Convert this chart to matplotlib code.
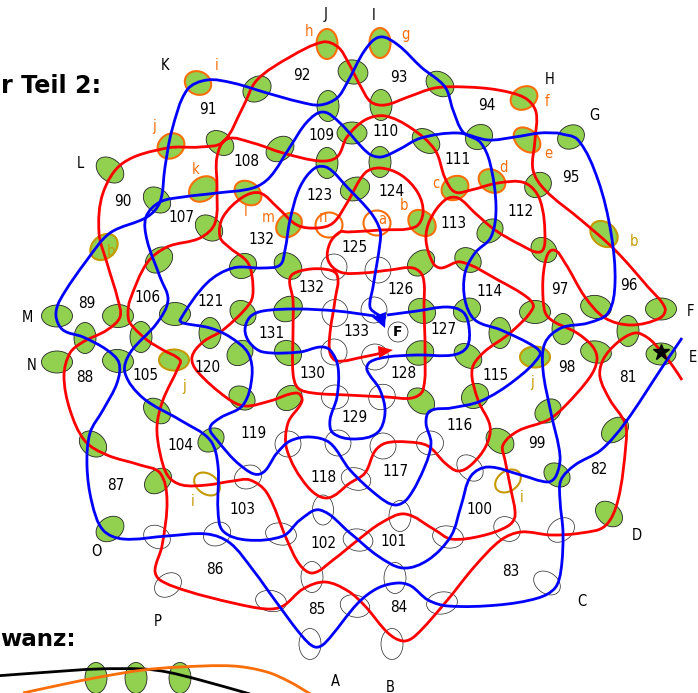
import matplotlib
matplotlib.use('Agg')
import matplotlib.pyplot as plt
from matplotlib.patches import Ellipse, PathPatch, Polygon, Circle
from matplotlib.path import Path
import numpy as np

# picture coordinates, y pointing down
# leaves : centre x, centre y, long axis, short axis, tilt
green_leaves = [
    (257,89,30,24,-35),(353,72,30,24,10),(328,106,22,31,0),(440,84,30,23,35),(381,105,22,31,0),
    (571,137,28,23,-30),(479,137,28,24,-30),(426,141,30,22,35),(352,133,30,22,0),(380,162,22,31,0),
    (327,163,22,31,0),(280,149,30,23,-35),(220,143,30,22,35),(110,170,31,22,40),(157,200,30,23,40),
    (209,228,30,23,40),(355,189,30,23,-20),(538,185,28,24,-35),(544,250,28,23,40),(490,231,28,22,-35),
    (421,263,30,23,-40),(468,260,28,23,35),(661,309,31,22,0),(596,307,31,23,10),(628,331,22,31,0),
    (563,329,22,31,0),(535,312,31,23,0),(500,333,22,31,0),(467,310,28,23,-25),(422,311,28,24,30),
    (420,353,28,24,-20),(468,356,30,22,35),(596,352,31,22,10),(661,354,30,22,0),(475,396,28,24,-30),
    (421,401,30,23,40),(548,411,28,22,-35),(615,430,30,22,-40),(500,441,30,23,35),(557,475,28,22,35),
    (609,514,30,22,40),(110,529,30,23,-35),(158,481,30,22,-40),(211,440,28,22,-35),(93,444,30,23,40),
    (157,411,30,22,40),(242,398,28,22,35),(289,398,28,23,-40),(288,353,28,24,30),(240,353,28,23,-40),
    (118,361,31,23,5),(57,362,31,22,0),(85,338,22,31,0),(57,316,31,22,0),(118,316,31,23,0),
    (141,337,22,31,0),(175,314,31,23,0),(210,333,22,31,0),(243,313,28,23,40),(159,260,30,23,-40),
    (243,266,28,24,-30),(288,266,30,24,40),(288,309,30,24,-30),
    (96,678,22,31,0),(136,678,22,31,0),(180,678,22,31,0),
]
orange_leaves = [
    (327,44,30,21,90),(198,83,27,23,25),(380,43,30,21,90),(524,98,28,22,-30),(527,140,30,21,40),
    (171,146,28,24,-35),(203,189,30,23,-35),(248,193,29,22,35),(289,225,28,22,-40),(422,223,30,23,40),
    (455,188,28,23,-30),(492,181,28,22,30),
]
orange_rings = [(329,225,27,25,0),(377,223,27,25,0)]
gold_leaves = [(604,234,30,23,40),(104,247,30,23,-40),(174,360,30,21,0),(535,357,30,21,0)]
gold_rings = [(508,481,28,20,-35),(207,484,28,20,35)]
empty_leaves = [
    (334,267,26,26,0),(378,270,26,26,0),(335,313,26,27,0),(374,310,26,26,0),(334,352,26,26,0),
    (375,357,27,26,0),(335,397,27,24,0),(382,397,27,25,-30),(356,479,30,22,15),(383,446,26,26,0),
    (430,443,27,24,0),(470,468,30,22,45),(288,444,26,26,0),(338,443,26,26,0),(248,477,28,23,-25),
    (323,510,30,21,90),(281,534,31,22,10),(217,534,28,23,-25),(157,537,28,22,30),(168,585,29,22,-35),
    (312,577,31,22,90),(271,601,31,21,10),(310,644,31,22,90),(355,606,30,22,15),(400,516,31,22,90),
    (395,578,31,22,90),(358,540,30,22,10),(448,537,31,22,10),(507,529,28,23,35),(561,530,29,22,-35),
    (547,583,29,21,35),(442,603,31,22,-10),(392,644,31,22,90),
]

red_line = [
    (682,380),(672,365),(660,350),(648,338),(635,333),(617,343),(603,360),(600,377),(610,400),(625,423),
    (626,443),(618,500),(605,526),(581,533),(551,535),(521,532),(501,540),(475,566),(445,603),(415,636),
    (403,641),(388,633),(365,606),(348,591),(325,582),(303,589),(283,606),(267,609),(233,603),(187,591),
    (160,580),(155,570),(162,546),(167,500),(160,473),(140,465),(107,455),(85,441),(70,410),(64,376),
    (70,353),(83,342),(107,330),(120,317),(118,300),(107,263),(99,233),(103,193),(123,163),(167,148),
    (200,147),(223,142),(243,107),(257,80),(290,57),(323,42),(338,47),(348,62),(361,87),(371,102),
    (385,105),(408,97),(435,88),(465,87),(498,90),(525,98),(536,112),(535,140),(533,170),(545,190),
    (581,220),(615,250),(648,287),(665,308),(660,318),(631,325),(605,318),(585,297),(565,263),(553,250),
    (545,263),(543,297),(548,317),(577,333),(593,347),(597,360),(590,377),(565,406),(548,420),(518,431),
    (503,445),(505,460),(511,490),(515,516),(508,526),(481,536),(451,539),(435,530),(405,514),(381,523),
    (358,540),(333,560),(313,573),(300,565),(287,540),(267,493),(250,480),(233,481),(207,485),(182,485),
    (168,476),(160,453),(157,426),(163,400),(178,368),(180,360),(163,350),(147,340),(130,323),(128,313),
    (130,300),(147,263),(167,247),(200,238),(215,223),(217,187),(217,157),(227,139),(253,143),(283,153),
    (320,161),(337,157),(347,137),(365,120),(385,116),(411,128),(435,150),(445,178),(455,192),(471,190),
    (498,183),(525,183),(540,200),(545,240),(540,252),(521,245),(495,230),(475,213),(458,198),(445,200),
    (430,220),(426,240),(433,263),(441,268),(461,262),(498,280),(528,298),(533,308),(510,333),(483,353),
    (472,370),(478,400),(490,426),(486,446),(471,465),(458,471),(445,463),(428,446),(408,442),(386,443),
    (375,451),(365,473),(350,483),(327,498),(307,486),(287,450),(288,423),(302,401),(297,393),(270,401),
    (245,406),(227,398),(197,371),(192,357),(203,342),(223,330),(250,303),(253,287),(248,263),(230,248),
    (220,237),(223,217),(243,197),(260,193),(277,207),(297,225),(317,228),(333,223),(347,203),(365,173),
    (380,168),(401,175),(418,193),(423,213),(415,227),(381,230),(348,232),(340,232),(330,243),(328,260),
    (340,272),(363,273),(390,270),(413,268),(423,277),(424,310),(425,350),(423,390),(412,398),(387,397),
    (347,395),(313,393),(298,388),(293,373),(293,333),(293,300),(290,278),(300,271),(323,269),(337,275),
    (335,300),(330,333),(330,353),(337,361),(363,357),(382,353),
]
blue_line = [
    (682,338),(663,366),(625,423),(601,450),(575,465),(561,480),(560,500),(563,533),(561,570),(555,588),
    (538,598),(498,605),(448,606),(428,600),(411,586),(398,583),(378,588),(358,603),(325,643),(315,647),
    (302,636),(277,603),(253,570),(230,543),(207,534),(167,536),(123,539),(103,530),(92,503),(87,466),
    (90,433),(103,410),(117,383),(119,363),(107,350),(83,337),(63,330),(56,316),(60,300),(87,260),
    (110,233),(147,217),(160,202),(165,167),(172,130),(187,90),(207,80),(233,83),(267,93),(300,102),
    (320,105),(337,98),(347,83),(365,50),(380,37),(398,45),(421,67),(445,87),(453,110),(463,132),
    (480,142),(490,163),(496,207),(491,237),(475,253),(465,273),(465,300),(475,320),(501,330),(535,347),
    (540,355),(515,380),(481,401),(451,408),(430,411),(426,423),(431,443),(425,466),(408,498),(395,505),
    (378,496),(350,470),(330,443),(310,437),(290,441),(277,453),(260,474),(240,465),(217,440),(210,428),
    (220,418),(243,405),(252,376),(248,353),(230,337),(210,328),(183,323),(180,320),(207,283),(233,268),
    (263,268),(280,265),(285,250),(290,220),(300,187),(315,168),(328,168),(347,187),(371,213),(380,230),
    (380,243),(373,287),(370,307),(377,314),(386,318),
]
blue_loop = [
    (558,133),(578,140),(598,180),(611,233),(615,283),(608,313),(588,323),(561,328),(545,343),(543,370),
    (551,413),(560,456),(556,476),(548,482),(521,475),(488,467),(471,476),(461,506),(451,536),(428,560),
    (403,568),(378,556),(350,533),(320,510),(300,520),(283,536),(247,540),(223,531),(218,510),(218,466),
    (210,440),(180,420),(143,398),(125,373),(130,353),(157,323),(168,300),(160,277),(147,240),(146,217),
    (160,202),(183,197),(217,193),(253,188),(270,177),(290,147),(307,122),(323,112),(340,123),(368,153),
    (381,157),(398,150),(421,138),(458,133),(488,140),(515,137),(540,133),(558,133),
]
blue_centre = [
    (387,315),(417,311),(447,307),(463,312),(469,327),(467,347),(453,355),(417,355),(387,357),(370,362),
    (367,370),(380,390),(385,413),(377,433),(353,439),(333,433),(330,420),(337,397),(338,367),(330,350),
    (320,347),(300,352),(263,352),(250,343),(245,330),(250,317),(263,311),(297,309),(337,311),(375,316),
]
black_tail = [(-5,676),(50,672),(97,669),(143,669),(167,672),(200,680),(250,694)]
orange_tail = [(23,693),(60,685),(100,677),(143,670),(180,667),(233,666),(267,672),(290,682),(312,695)]

red_head = [(393,350),(378,346),(379,358)]
blue_head = [(385,328),(372,317),(386,312)]

numbers = ['92','93','91','94','109','110','108','111','95','90','107','123','124','112','113','132','125','132','126','114',
           '97','96','89','106','121','131','133','127','88','105','120','130','128','115','98','81','129','119','116','104',
           '99','118','117','87','82','103','100','102','101','86','83','85','84']
number_x = [302,399,208,487,322,385,246,458,571,123,181,320,391,521,454,261,355,312,401,489,
            560,629,87,147,211,272,356,443,85,146,208,312,403,496,567,628,355,254,460,180,
            537,323,395,116,599,242,479,323,394,215,511,317,399]
number_y = [76,77,110,106,135,132,162,159,178,201,217,196,192,211,223,240,247,288,289,292,
            290,286,304,298,301,333,332,329,378,376,367,374,374,376,368,377,418,434,426,445,
            443,478,471,486,470,510,510,544,542,570,572,610,607]

black_letters = ['J','I','K','H','G','L','M','N','O','P','A','B','C','D','E','F']
black_x = [326,374,165,550,594,80,27,32,96,158,335,390,582,637,693,691]
black_y = [14,15,66,79,116,163,317,366,552,621,682,687,601,536,358,311]

orange_letters = ['h','i','g','j','f','e','d','c','b','a','n','m','l','k']
orange_x = [309,217,405,154,547,548,504,436,404,382,323,268,246,196]
orange_y = [31,66,34,126,101,154,168,183,206,219,218,217,212,170]

gold_letters = ['b','b','j','j','i','i']
gold_x = [111,634,184,532,193,522]
gold_y = [252,242,386,382,502,498]

GREEN = '#92D050'
ORANGE = '#FA6E0A'
GOLD = '#C49A00'


def smooth(points):
    # cubic segments through the points, handles follow the chord length
    pts = np.array(points, dtype=float)
    before = np.vstack([pts[0], pts[:-1]])
    after = np.vstack([pts[1:], pts[-1]])
    directions = after - before
    directions = directions / np.linalg.norm(directions, axis=1, keepdims=True)
    verts = [pts[0]]
    codes = [Path.MOVETO]
    for i in range(len(pts) - 1):
        reach = np.linalg.norm(pts[i + 1] - pts[i]) / 3
        verts += [pts[i] + directions[i] * reach, pts[i + 1] - directions[i + 1] * reach, pts[i + 1]]
        codes += [Path.CURVE4] * 3
    return Path(verts, codes)


def draw_leaves(ax, rows, face, edge, width, z):
    for x, y, a, b, tilt in rows:
        ax.add_patch(Ellipse((x, y), a, b, angle=tilt, facecolor=face, edgecolor=edge, linewidth=width, zorder=z))


def draw_curve(ax, points, color, z=3):
    ax.add_patch(PathPatch(smooth(points), facecolor='none', edgecolor=color, linewidth=2.0, zorder=z,
                           capstyle='butt'))


def draw_labels(ax, names, xs, ys, color, size):
    for name, x, y in zip(names, xs, ys):
        ax.text(x, y, name, color=color, fontsize=size, ha='center', va='center', zorder=6,
                family='DejaVu Sans', stretch='condensed')


fig = plt.figure(figsize=(6.98, 6.93), dpi=100)
ax = fig.add_axes([0, 0, 1, 1])
ax.set_xlim(0, 698)
ax.set_ylim(693, 0)
ax.axis('off')

draw_leaves(ax, empty_leaves, 'white', '#222222', 0.5, 1)
draw_leaves(ax, green_leaves, GREEN, '#222222', 0.6, 1)
draw_leaves(ax, orange_leaves, GREEN, ORANGE, 1.5, 2)
draw_leaves(ax, gold_leaves, GREEN, GOLD, 1.5, 2)
draw_leaves(ax, orange_rings, 'none', ORANGE, 1.5, 2)
draw_leaves(ax, gold_rings, 'none', GOLD, 1.5, 2)

draw_curve(ax, black_tail, 'black')
draw_curve(ax, orange_tail, ORANGE)
draw_curve(ax, red_line, '#FF0000')
draw_curve(ax, blue_loop, '#0000FF')
draw_curve(ax, blue_centre, '#0000FF')
draw_curve(ax, blue_line, '#0000FF')

ax.add_patch(Polygon(red_head, closed=True, facecolor='#FF0000', edgecolor='none', zorder=5))
ax.add_patch(Polygon(blue_head, closed=True, facecolor='#0000FF', edgecolor='none', zorder=5))

ax.add_patch(Circle((398, 332), 10, facecolor='white', edgecolor='#222222', linewidth=0.5, zorder=4))
ax.text(398, 332, 'F', fontsize=10, fontweight='bold', ha='center', va='center', zorder=6)
ax.plot([661], [352], marker='*', color='black', markersize=12, zorder=5)

draw_labels(ax, numbers, number_x, number_y, 'black', 11)
draw_labels(ax, black_letters, black_x, black_y, 'black', 10.5)
draw_labels(ax, orange_letters, orange_x, orange_y, ORANGE, 10.5)
draw_labels(ax, gold_letters, gold_x, gold_y, GOLD, 10.5)

ax.text(101, 93, 'r Teil 2:', fontsize=17.2, fontweight='bold', ha='right', va='baseline')
ax.text(76, 646, 'wanz:', fontsize=16.6, fontweight='bold', ha='right', va='baseline')

fig.savefig('out.png', dpi=100)
plt.close(fig)
